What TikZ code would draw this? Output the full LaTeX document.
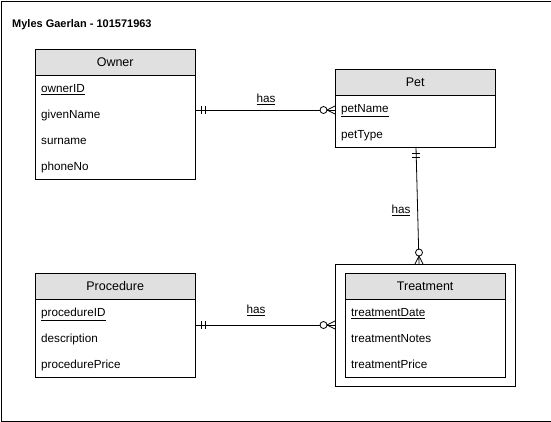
\documentclass[tikz,border=0pt]{standalone}
\usepackage{fontspec}
\setmainfont{Liberation Sans}
\usetikzlibrary{calc}
\definecolor{hdr}{HTML}{E0E0E0}
\begin{document}
\begin{tikzpicture}[x=1pt,y=-1pt,
  hdrbox/.style={draw, fill=hdr, minimum width=160pt, minimum height=26pt, inner sep=0pt, anchor=north west, font=\fontsize{12.5}{14}\selectfont},
  bodybox/.style={draw, fill=white, minimum width=160pt, inner sep=0pt, anchor=north west},
  attr/.style={anchor=base west, inner sep=0pt, font=\fontsize{11.7}{13}\selectfont},
  lbl/.style={anchor=base, inner sep=0pt, font=\fontsize{11.7}{13}\selectfont},
  conn/.style={draw, line width=0.8pt},
  dec/.style={line width=0.8pt}]
\path[use as bounding box] (0,0) rectangle (551,421);
\node[draw, line width=0.8pt, minimum width=550pt, minimum height=420pt, inner sep=0pt, anchor=north west] (frame) at (0.5,0.5) {};
\node[anchor=base west, inner sep=0pt, font=\bfseries\fontsize{11}{13}\selectfont] (title) at (12,27.5) {Myles Gaerlan - 101571963};

% Owner
\node[hdrbox] (ownerh) at (35,49) {Owner};
\node[bodybox, minimum height=104pt] (ownerb) at (35,75) {};
\node[attr] (o1) at (41,92.5) {\underline{ownerID}};
\node[attr] (o2) at (41,118.5) {givenName};
\node[attr] (o3) at (41,144.5) {surname};
\node[attr] (o4) at (41,170.5) {phoneNo};

% Pet
\node[hdrbox] (peth) at (335,69) {Pet};
\node[bodybox, minimum height=52pt] (petb) at (335,95) {};
\node[attr] (p1) at (341,112.5) {\underline{petName}};
\node[attr] (p2) at (341,138.5) {petType};

% Procedure
\node[hdrbox] (proch) at (35,273) {Procedure};
\node[bodybox, minimum height=78pt] (procb) at (35,299) {};
\node[attr] (r1) at (41,316.5) {\underline{procedureID}};
\node[attr] (r2) at (41,342.5) {description};
\node[attr] (r3) at (41,368.5) {procedurePrice};

% Treatment (weak entity)
\node[draw, line width=0.8pt, minimum width=180pt, minimum height=122pt, inner sep=0pt, anchor=north west] (treato) at (335,264) {};
\node[hdrbox] (treath) at (345,273) {Treatment};
\node[bodybox, minimum height=78pt] (treatb) at (345,299) {};
\node[attr] (t1) at (351,316.5) {\underline{treatmentDate}};
\node[attr] (t2) at (351,342.5) {treatmentNotes};
\node[attr] (t3) at (351,368.5) {treatmentPrice};

% connector Owner - Pet
\coordinate (a1) at (ownerb.east |- 0,110);
\coordinate (b1) at (petb.west |- 0,110);
\draw[conn] (a1) -- (b1);
\draw[dec] ($(a1)+(6,-4)$) -- ($(a1)+(6,4)$);
\draw[dec] ($(a1)+(10,-4)$) -- ($(a1)+(10,4)$);
\draw[dec] ($(b1)+(-8,0)$) -- ($(b1)+(0,-4)$);
\draw[dec] ($(b1)+(-8,0)$) -- ($(b1)+(0,4)$);
\draw[dec, fill=white] ($(b1)+(-11.5,0)$) circle[radius=3.5pt];
\node[lbl] (l1) at (266,102.5) {\underline{has}};

% connector Pet - Treatment
\coordinate (a2) at (416,147);
\coordinate (b2) at (419,264);
\draw[conn] (a2) -- (b2);
\draw[dec] ($(a2)+(-4,6)$) -- ($(a2)+(4,6)$);
\draw[dec] ($(a2)+(-4,10)$) -- ($(a2)+(4,10)$);
\draw[dec] ($(b2)+(0,-8)$) -- ($(b2)+(-4,0)$);
\draw[dec] ($(b2)+(0,-8)$) -- ($(b2)+(4,0)$);
\draw[dec, fill=white] ($(b2)+(0,-11.5)$) circle[radius=3.5pt];
\node[lbl] (l2) at (401,213.5) {\underline{has}};

% connector Procedure - Treatment
\coordinate (a3) at (procb.east |- 0,325);
\coordinate (b3) at (treato.west |- 0,325);
\draw[conn] (a3) -- (b3);
\draw[dec] ($(a3)+(6,-4)$) -- ($(a3)+(6,4)$);
\draw[dec] ($(a3)+(10,-4)$) -- ($(a3)+(10,4)$);
\draw[dec] ($(b3)+(-8,0)$) -- ($(b3)+(0,-4)$);
\draw[dec] ($(b3)+(-8,0)$) -- ($(b3)+(0,4)$);
\draw[dec, fill=white] ($(b3)+(-11.5,0)$) circle[radius=3.5pt];
\node[lbl] (l3) at (256,313.5) {\underline{has}};
\end{tikzpicture}
\end{document}
